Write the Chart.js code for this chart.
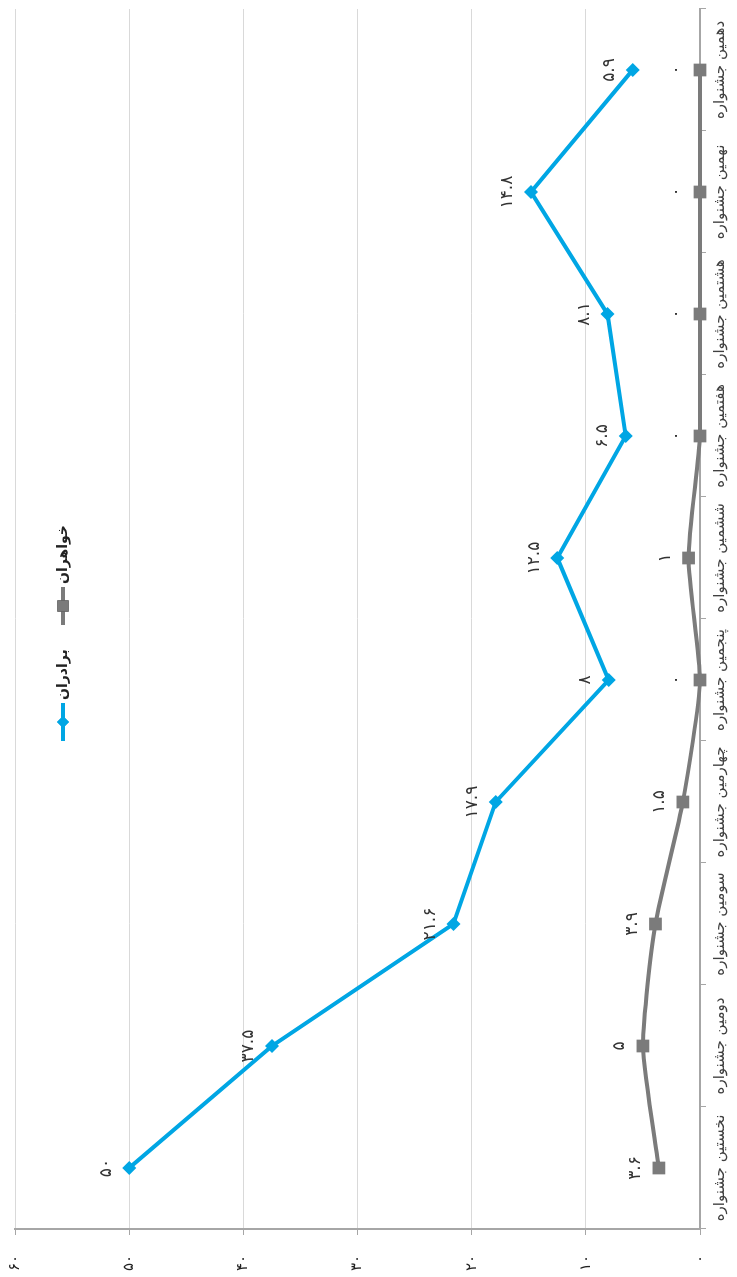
<!DOCTYPE html>
<html>
<head>
<meta charset="utf-8">
<script src="https://cdn.jsdelivr.net/npm/chart.js@4.4.1/dist/chart.umd.min.js"></script>
<style>
  html, body { margin: 0; padding: 0; background: #fff; overflow: hidden; }
  #wrap {
    position: absolute; left: 0; top: 0;
    width: 1277px; height: 737px;
    transform-origin: 0 0;
    transform: translateY(1277px) rotate(-90deg);
  }
</style>
</head>
<body>
<div id="wrap"><canvas id="chart" width="1277" height="737"></canvas></div>
<script>
var categories = ['نخستین جشنواره', 'دومین جشنواره', 'سومین جشنواره', 'چهارمین جشنواره', 'پنجمین جشنواره',
                  'ششمین جشنواره', 'هفتمین جشنواره', 'هشتمین جشنواره', 'نهمین جشنواره', 'دهمین جشنواره'];
var brothers = [50, 37.5, 21.6, 17.9, 8, 12.5, 6.5, 8.1, 14.8, 5.9];
var sisters = [3.6, 5, 3.9, 1.5, 0, 1, 0, 0, 0, 0];
var seriesNames = ['برادران', 'خواهران'];

var blue = '#00a6e4';
var grey = '#7b7b7b';
var axisGrey = '#a6a6a6';
var font = 'DejaVu Sans';

function toFa(v){
    return String(v).replace(/\d/g, d => '۰۱۲۳۴۵۶۷۸۹'[d]);
}

// value labels above every point
var pointLabels = {
    id: 'pointLabels',
    afterDatasetsDraw(chart){
        var ctx = chart.ctx;
        ctx.save();
        ctx.font = '17px "' + font + '"';
        ctx.fillStyle = '#333';
        ctx.textAlign = 'center';
        ctx.textBaseline = 'middle';
        chart.data.datasets.forEach((ds, i) => {
            chart.getDatasetMeta(i).data.forEach((pt, j) => {
                ctx.fillText(toFa(ds.data[j]), pt.x, pt.y - 23);
            });
        });
        ctx.restore();
    }
};

// line + marker legend sitting inside the plot
var lineLegend = {
    id: 'lineLegend',
    afterDraw(chart){
        var ctx = chart.ctx;
        var y = 63;
        var items = [{ x: 536, i: 0 }, { x: 652, i: 1 }];
        ctx.save();
        items.forEach(it => {
            var ds = chart.data.datasets[it.i];
            ctx.strokeStyle = ds.borderColor;
            ctx.lineWidth = 4;
            ctx.beginPath();
            ctx.moveTo(it.x, y);
            ctx.lineTo(it.x + 38, y);
            ctx.stroke();
            Chart.helpers.drawPoint(ctx, {
                pointStyle: ds.pointStyle, radius: ds.pointRadius - 1, borderWidth: 0
            }, it.x + 19, y);
            ctx.fillStyle = ds.borderColor;
            ctx.fill();
            ctx.fillStyle = '#222';
            ctx.font = 'bold 14px "' + font + '"';
            ctx.textAlign = 'left';
            ctx.textBaseline = 'middle';
            ctx.fillText(ds.label, it.x + 41, y);
        });
        ctx.restore();
    }
};

var ctx = document.getElementById('chart').getContext('2d');
new Chart(ctx, {
    type: 'line',
    data: {
        labels: categories,
        datasets: [{
            label: seriesNames[0],
            data: brothers,
            borderColor: blue,
            backgroundColor: blue,
            borderWidth: 4,
            pointStyle: 'rectRot',
            pointRadius: 7,
            pointBorderWidth: 0,
            tension: 0,
            clip: false
        }, {
            label: seriesNames[1],
            data: sisters,
            borderColor: grey,
            backgroundColor: grey,
            borderWidth: 4,
            pointStyle: 'rect',
            pointRadius: 9,
            pointBorderWidth: 0,
            tension: 0.2,
            clip: false
        }]
    },
    options: {
        responsive: false,
        animation: false,
        devicePixelRatio: 1,
        layout: { padding: { top: 15, right: 8, left: 0, bottom: 0 } },
        plugins: {
            legend: { display: false },
            tooltip: { enabled: false }
        },
        scales: {
            x: {
                offset: true,
                afterFit: s => { s.height = 37; s.paddingLeft = 0; s.paddingRight = 0; },
                grid: { drawOnChartArea: false, color: axisGrey, tickLength: 6, offset: true },
                border: { color: axisGrey, width: 2 },
                ticks: {
                    autoSkip: false, maxRotation: 0, padding: 5,
                    color: '#404040', font: { family: font, size: 15 }
                }
            },
            y: {
                min: 0,
                max: 60,
                afterFit: s => { s.width = 48; s.paddingTop = 0; s.paddingBottom = 0; },
                grid: { color: '#d9d9d9', tickColor: axisGrey, tickLength: 6 },
                border: { color: axisGrey, width: 2 },
                ticks: {
                    stepSize: 10, padding: 20,
                    color: '#222', font: { family: font, size: 15 },
                    callback: v => toFa(v)
                }
            }
        }
    },
    plugins: [pointLabels, lineLegend]
});
</script>
</body>
</html>
